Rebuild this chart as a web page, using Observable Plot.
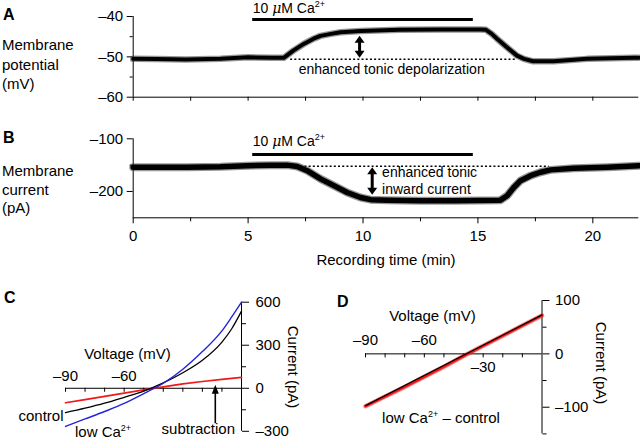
<!DOCTYPE html>
<html><head><meta charset="utf-8">
<script src="https://cdn.jsdelivr.net/npm/d3@7"></script>
<script src="https://cdn.jsdelivr.net/npm/@observablehq/plot@0.6"></script>
<style>
html,body{margin:0;padding:0;background:#fff;}
#fig{position:relative;width:640px;height:438px;overflow:hidden;font-family:"Liberation Sans",Arial,Helvetica,sans-serif;color:#000;background:#fff;}
.lbl{position:absolute;white-space:nowrap;line-height:1;font-size:15px;}
.lbl sup{font-size:9px;vertical-align:0;position:relative;top:-6px;}
</style></head><body><div id="fig"></div>
<script>
// ---------- DATA ----------
// Panel A: membrane potential (mV) vs recording time (min)
const potTime  = [0, 1, 2.3, 3.8, 5, 6, 6.55, 6.98, 7.42, 7.85, 8.15, 8.6, 9.02, 9.9, 11.6, 13.4, 15.1, 15.35, 15.6, 15.83, 16.26, 16.7, 17.0, 17.4, 18.3, 19.75, 21.8, 22];
const potValue = [-50.5, -50.55, -50.65, -50.5, -50.1, -50.25, -50.25, -48.4, -46.8, -45.5, -44.8, -44.3, -43.9, -43.6, -43.3, -43.2, -43.2, -43.3, -44.3, -45.5, -47.6, -49.7, -50.5, -51.1, -51.1, -50.5, -50.2, -50.2];
const potTicks = [-40, -50, -60];
const potMinorTicks = [-45, -55];
const potBaseline = -50.6;
const potDotted = [6.85, 16.72];
const potBarLevel = -40.75;
const potBarTextLevel = -38.1;
const potArrow = {t: 9.85, top: -44.75, bottom: -50.2};
const potNote = {t: 7.2, v: -53.25, text: "enhanced tonic depolarization"};

// Panel B: membrane current (pA) vs recording time (min)
const curTime  = [0, 2.35, 3.8, 4.96, 5.97, 6.7, 7.14, 7.57, 8.15, 8.73, 9.31, 9.89, 10.33, 11.05, 12.5, 13.95, 15.0, 15.98, 16.27, 16.56, 16.85, 17.29, 17.72, 18.16, 19.17, 20.63, 22];
const curValue = [-154, -154, -153, -151, -150, -150, -152.5, -160.5, -176, -189, -202, -211.5, -215.5, -216.5, -217.5, -217.5, -217, -216.5, -208, -192.5, -179.5, -170, -163.5, -159, -156, -154, -151];
const curTicks = [-100, -200];
const curMinorTicks = [-150];
const curBaseline = -152.3;
const curDotted = [7.29, 18.1];
const curBarLevel = -130;
const curBarTextLevel = -105;
const curArrow = {t: 10.4, top: -154.2, bottom: -206.3};
const curNotes = [{t: 10.83, v: -164.9, text: "enhanced tonic"}, {t: 10.83, v: -196.8, text: "inward current"}];

// shared time axis and Ca2+ application bar
const timeMajorTicks = [0, 5, 10, 15, 20];
const timeMinorTicks = [2.5, 7.5, 12.5, 17.5];
const timeAllTicks = [0, 2.5, 5, 7.5, 10, 12.5, 15, 17.5, 20];
const caBar = [5.2, 14.8];
const caLabel = "10 μM Ca2+";

// Panel C: I-V curves
const ivVoltage = [-90, -80, -70, -60, -50, -40, -30, -20, -10, -5, 0];
const controlI  = [-170, -139, -104, -63, -20, 37, 108, 195, 322, 415, 538];
const lowCaI    = [-266, -214, -162, -106, -38, 35, 133, 256, 400, 497, 600];
const subtractI = [-101, -79, -57, -34, -11, 10, 30, 47, 62, 69, 76];
const cYTicks = [600, 300, 0, -300];
const cYMinor = [450, 150, -150];
const vTicks = [-90, -80, -70, -60, -50, -40, -30, -20, -10];
const cXLabels = [-90, -60];
const cArrow = {v: -13.4, tip: 24, tail: -247};

// Panel D: low Ca2+ - control
const dRedV = [-90, -80, -70, -60, -50, -40, -30, -20, -10, 0];
const dRedI = [-98, -80, -62, -43, -24, -4, 15, 34, 53, 72];
const dFitV = [-90, 0];
const dFitI = [-97, 73];
const dYTicks = [100, 0, -100];
const dYMinor = [50, -50, -150];
const dXLabelsAbove = [-90, -60];
const dXLabelsBelow = [-30];

// ---------- HELPERS ----------
const fig = document.getElementById("fig");
const font = '"Liberation Sans", Arial, Helvetica, sans-serif';
const baseStyle = {fontSize: "15px", fontFamily: font, background: "transparent", color: "black"};
const fmt = d => d < 0 ? "\u2013" + Math.abs(d) : String(d);
const blank = () => "";
const headUp = (w, h) => ({draw(c) { c.moveTo(0, 0); c.lineTo(w / 2, h); c.lineTo(-w / 2, h); c.closePath(); }});
const headDown = (w, h) => ({draw(c) { c.moveTo(0, 0); c.lineTo(w / 2, -h); c.lineTo(-w / 2, -h); c.closePath(); }});

function richText(el) {
  const s = el.textContent;
  if (!/μ|Ca2\+/.test(s)) return;
  const sel = d3.select(el);
  sel.text(null);
  for (const tok of s.split(/(μ|2\+)/).filter(x => x)) {
    if (tok === "μ") sel.append("tspan").attr("font-style", "italic").attr("font-family", "DejaVu Serif, serif").attr("font-size", "14px").text("μ");
    else if (tok === "2+") sel.append("tspan").attr("dy", "-6").attr("font-size", "9px").text("2+");
    else sel.append("tspan").text(tok);
  }
}
function place(svg, left, top) {
  svg.style.position = "absolute";
  svg.style.left = left + "px";
  svg.style.top = top + "px";
  fig.appendChild(svg);
  d3.select(svg).selectAll("text").each(function () { richText(this); });
}
function label(html, x, y, {anchor = "middle", size = 15, weight = "normal", rotate = 0} = {}) {
  const d = document.createElement("div");
  d.className = "lbl";
  d.innerHTML = html;
  d.style.left = x + "px";
  d.style.top = y + "px";
  d.style.fontSize = size + "px";
  d.style.fontWeight = weight;
  const tx = anchor === "start" ? "0%" : anchor === "end" ? "-100%" : "-50%";
  d.style.transform = `translate(${tx},-50%)` + (rotate ? ` rotate(${rotate}deg)` : "");
  fig.appendChild(d);
}

// ---------- PANEL A ----------
const potPts = potTime.map((t, i) => ({t, v: potValue[i]}));
place(Plot.plot({
  width: 640, height: 110, marginLeft: 132.7, marginRight: 1.7, marginTop: 16, marginBottom: 13.3,
  style: baseStyle,
  x: {domain: [0, 22], label: null},
  y: {domain: [-60, -40], label: null},
  marks: [
    Plot.ruleX([0], {y1: -60, y2: -40}),
    Plot.ruleY([-60], {x1: 0, x2: 22}),
    Plot.axisY({ticks: potTicks, tickSize: 6, tickPadding: 4, tickFormat: fmt}),
    Plot.axisY({ticks: potMinorTicks, tickSize: 3, tickFormat: blank}),
    Plot.axisX({ticks: timeAllTicks, tickSize: 4, tickFormat: blank}),
    Plot.ruleY([potBaseline], {x1: potDotted[0], x2: potDotted[1], strokeDasharray: "2,2.2", strokeWidth: 1.5}),
    Plot.line(potPts, {x: "t", y: "v", stroke: "#444", strokeOpacity: 0.55, strokeWidth: 6.5, strokeLinejoin: "round"}),
    Plot.line(potPts, {x: "t", y: "v", strokeWidth: 4, strokeLinejoin: "round"}),
    Plot.ruleY([potBarLevel], {x1: caBar[0], x2: caBar[1], strokeWidth: 3}),
    Plot.text([caLabel], {x: caBar[0], y: potBarTextLevel, textAnchor: "start", fontSize: 14}),
    Plot.ruleX([potArrow], {x: "t", y1: "top", y2: "bottom", strokeWidth: 3, insetTop: 4, insetBottom: 4}),
    Plot.dot([potArrow], {x: "t", y: "top", symbol: headUp(10, 7), fill: "black", r: 4}),
    Plot.dot([potArrow], {x: "t", y: "bottom", symbol: headDown(10, 7), fill: "black", r: 4}),
    Plot.text([potNote], {x: "t", y: "v", text: "text", textAnchor: "start", fontSize: 14})
  ]
}), 0, 0);

// ---------- PANEL B ----------
const curPts = curTime.map((t, i) => ({t, v: curValue[i]}));
place(Plot.plot({
  width: 640, height: 140, marginLeft: 132.7, marginRight: 1.7, marginTop: 28.3, marginBottom: 32.7,
  style: baseStyle,
  x: {domain: [0, 22], label: null},
  y: {domain: [-250, -100], label: null},
  marks: [
    Plot.ruleX([0], {y1: -250, y2: -100}),
    Plot.ruleY([-250], {x1: 0, x2: 22}),
    Plot.axisY({ticks: curTicks, tickSize: 6, tickPadding: 4, tickFormat: fmt}),
    Plot.axisY({ticks: curMinorTicks, tickSize: 3, tickFormat: blank}),
    Plot.axisX({ticks: timeMajorTicks, tickSize: 6, tickPadding: 7, tickFormat: fmt}),
    Plot.axisX({ticks: timeMinorTicks, tickSize: 4, tickFormat: blank}),
    Plot.ruleY([curBaseline], {x1: curDotted[0], x2: curDotted[1], strokeDasharray: "2,2.2", strokeWidth: 1.5}),
    Plot.line(curPts, {x: "t", y: "v", stroke: "#444", strokeOpacity: 0.55, strokeWidth: 8, strokeLinejoin: "round"}),
    Plot.line(curPts, {x: "t", y: "v", strokeWidth: 5.5, strokeLinejoin: "round"}),
    Plot.ruleY([curBarLevel], {x1: caBar[0], x2: caBar[1], strokeWidth: 3}),
    Plot.text([caLabel], {x: caBar[0], y: curBarTextLevel, textAnchor: "start", fontSize: 14}),
    Plot.ruleX([curArrow], {x: "t", y1: "top", y2: "bottom", strokeWidth: 3, insetTop: 4, insetBottom: 4}),
    Plot.dot([curArrow], {x: "t", y: "top", symbol: headUp(10, 7), fill: "black", r: 4}),
    Plot.dot([curArrow], {x: "t", y: "bottom", symbol: headDown(10, 7), fill: "black", r: 4}),
    Plot.text(curNotes, {x: "t", y: "v", text: "text", textAnchor: "start", fontSize: 14})
  ]
}), 0, 110);

// ---------- PANEL C ----------
const ivPts = (arr) => ivVoltage.map((v, i) => ({v, i: arr[i]}));
place(Plot.plot({
  width: 320, height: 158, marginLeft: 65, marginRight: 79, marginTop: 21.7, marginBottom: 7.2,
  style: baseStyle,
  x: {domain: [-90, 0], label: null, axis: null},
  y: {domain: [-300, 600], label: null},
  marks: [
    Plot.ruleX([0], {y1: -300, y2: 600}),
    Plot.ruleY([0], {x1: -90, x2: 0}),
    Plot.axisY({anchor: "right", ticks: cYTicks, tickSize: 7, tickPadding: 7, tickFormat: fmt}),
    Plot.axisY({anchor: "right", ticks: cYMinor, tickSize: 4, tickFormat: blank}),
    Plot.ruleX(vTicks, {y1: 0, y2: 0, insetBottom: -4}),
    Plot.text(cXLabels, {x: d => d, y: 0, text: fmt, dy: -12}),
    Plot.line(ivPts(subtractI), {x: "v", y: "i", stroke: "#f01818", strokeWidth: 1.7}),
    Plot.line(ivPts(controlI), {x: "v", y: "i", stroke: "black", strokeWidth: 1.3, curve: "monotone-x"}),
    Plot.line(ivPts(lowCaI), {x: "v", y: "i", stroke: "#2424d8", strokeWidth: 1.4, curve: "monotone-x"}),
    Plot.ruleX([cArrow], {x: "v", y1: "tip", y2: "tail", strokeWidth: 1.6, insetTop: 6}),
    Plot.dot([cArrow], {x: "v", y: "tip", symbol: headUp(7, 9), fill: "black", r: 4})
  ]
}), 0, 280);

// ---------- PANEL D ----------
const dRed = dRedV.map((v, i) => ({v, i: dRedI[i]}));
const dFit = dFitV.map((v, i) => ({v, i: dFitI[i]}));
place(Plot.plot({
  width: 320, height: 158, marginLeft: 45, marginRight: 98.5, marginTop: 20, marginBottom: 4.6,
  style: baseStyle,
  x: {domain: [-90, 0], label: null, axis: null},
  y: {domain: [-150, 100], label: null},
  marks: [
    Plot.ruleX([0], {y1: -150, y2: 100}),
    Plot.ruleY([0], {x1: -90, x2: 0}),
    Plot.axisY({anchor: "right", ticks: dYTicks, tickSize: 7, tickPadding: 6, tickFormat: fmt}),
    Plot.axisY({anchor: "right", ticks: dYMinor, tickSize: 4, tickFormat: blank}),
    Plot.ruleX(vTicks, {y1: 0, y2: 0, insetBottom: -4}),
    Plot.text(dXLabelsAbove, {x: d => d, y: 0, text: fmt, dy: -14}),
    Plot.text(dXLabelsBelow, {x: d => d, y: 0, text: fmt, dy: 13}),
    Plot.line(dRed, {x: "v", y: "i", stroke: "#f01818", strokeOpacity: 0.5, strokeWidth: 4.5}),
    Plot.line(dRed, {x: "v", y: "i", stroke: "#f01818", strokeWidth: 2.6}),
    Plot.line(dFit, {x: "v", y: "i", stroke: "black", strokeWidth: 1.2})
  ]
}), 320, 280);

// ---------- LABELS ----------
label("A", 3, 15, {anchor: "start", size: 16, weight: "bold"});
label("B", 3, 138, {anchor: "start", size: 16, weight: "bold"});
label("C", 4, 298, {anchor: "start", size: 16, weight: "bold"});
label("D", 337, 301.5, {anchor: "start", size: 16, weight: "bold"});
label("Membrane", 2, 44.3, {anchor: "start"});
label("potential", 2, 63.5, {anchor: "start"});
label("(mV)", 2, 82.7, {anchor: "start"});
label("Membrane", 2, 170, {anchor: "start"});
label("current", 2, 188.5, {anchor: "start"});
label("(pA)", 2, 206.7, {anchor: "start"});
label("Recording time (min)", 386, 259);
label("Voltage (mV)", 127.5, 353.3);
label("Current (pA)", 293.3, 366.7, {rotate: 90});
label("control", 63.5, 415, {anchor: "end"});
label("low Ca<sup>2+</sup>", 75, 431, {anchor: "start"});
label("subtraction", 198.3, 428);
label("Voltage (mV)", 432.5, 315);
label("Current (pA)", 601, 363, {rotate: 90});
label("low Ca<sup>2+</sup> \u2013 control", 441, 416.7);
</script>
</body></html>
